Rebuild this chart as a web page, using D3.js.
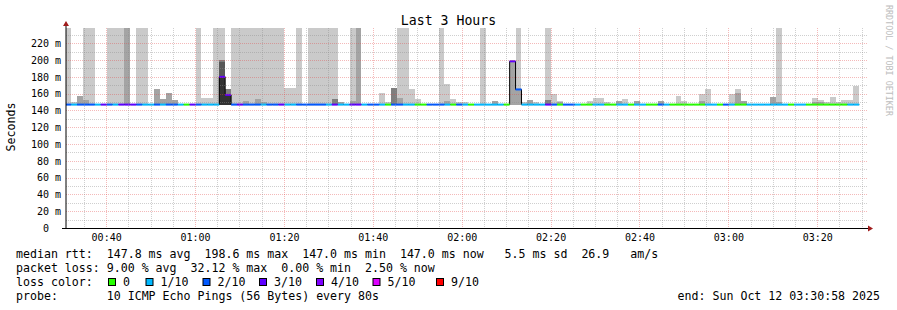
<!DOCTYPE html>
<html>
<head>
<meta charset="utf-8">
<script src="https://cdn.jsdelivr.net/npm/d3@7"></script>
<style>
  body { margin: 0; background: #fff; }
  svg text { font-family: "DejaVu Sans Mono", monospace; white-space: pre; }
</style>
</head>
<body>
<svg id="chart" width="897" height="310"></svg>
<script>
// ── Data ────────────────────────────────────────────────────
const windowStart = new Date(2025, 9, 12, 0, 30, 58);
const windowEnd = new Date(2025, 9, 12, 3, 30, 58);
const stepStart = new Date(2025, 9, 12, 0, 30, 47);
const stepSeconds = 80;
const minRtt = 147.0;

const lossBins = [0, 1, 2, 3, 4, 5, 9];
const lossLabels = ['0', '1/10', '2/10', '3/10', '4/10', '5/10', '9/10'];

// packet loss per step, in pings out of 10
const lossTenths = [
  2, 1, 2, 2, 2, 1, 3, 2, 1, 3,   3, 3, 2, 1, 1, 2, 1, 2, 2, 1,
  0, 3, 2, 1, 1, 1, 3, 3, 2, 3,   2, 2, 2, 1, 2, 2, 3, 1, 1, 2,
  2, 2, 2, 2, 1, 3, 1, 1, 3, 3,   1, 2, 2, 1, 0, 2, 2, 1, 1, 0,
  0, 2, 2, 2, 1, 0, 2, 1, 0, 1,   1, 1, 1, 1, 0, 3, 2, 1, 1, 1,
  1, 3, 2, 0, 2, 2, 1, 0, 0, 1,   1, 0, 0, 1, 1, 0, 1, 1, 0, 0,
  2, 1, 0, 0, 0, 0, 0, 0, 1, 1,   0, 2, 1, 0, 0, 1, 1, 1, 1, 1,
  1, 1, 0, 1, 1, 0, 0, 0, 0, 0,   0, 0, 1, 1
];

// median rtt per step (ms)
const medianMs = [
  147, 147, 147, 147, 147, 147, 147, 147, 147, 147,   147, 147, 147, 147, 147, 147, 147, 147, 147, 147,
  147, 147, 147, 147, 147, 147, 180, 158.5, 147, 147, 147, 147, 147, 147, 147, 147, 147, 147, 147, 147,
  147, 147, 147, 147, 147, 147, 147, 147, 147, 147,   147, 147, 147, 147, 147, 147, 147, 147, 147, 147,
  147, 147, 147, 147, 147, 147, 147, 147, 147, 147,   147, 147, 147, 147, 147, 198.5, 165, 147, 147, 147,
  147, 147, 147, 147, 147, 147, 147, 147, 147, 147,   147, 147, 147, 147, 147, 147, 147, 147, 147, 147,
  147, 147, 147, 147, 147, 147, 147, 147, 147, 147,   147, 147, 147, 147, 147, 147, 147, 147, 147, 147,
  147, 147, 147, 147, 147, 147, 147, 147, 147, 147,   147, 147, 147, 147
];

// outer smoke band top (ms, 300 = off scale)
const smoke1 = [
  300, 150, 157, 300, 300, null, null, 300, 300, 300,   300, null, 300, 300, null, 166, 154, 161, 153, null,
  null, null, 300, 155, 155, 300, 300, 166, 300, 300,   300, 300, 300, 300, 300, 300, 300, 167, 167, 300,
  null, 300, 300, 300, 300, 300, 150, null, 300, 300,   null, null, null, 161, 150.5, 167, 300, 300, 166, 154,
  null, null, null, 300, 172, 154, 149.5, 149.5, null, null,   300, null, 151.5, null, null, 198.5, 300, 149.5, 152, 150,
  null, 300, 160, 151, null, null, null, null, 151.5, 155,   155, 150, null, 151, 154, null, 151, null, null, null,
  151.5, null, null, 157.5, 151.5, null, null, 160, 165, null,   null, null, 159, 165, 151.5, null, null, null, null, 156,
  300, null, null, null, null, null, 155, 152, 150.5, 156,   150.5, 153, 153, 169.5
];

// second smoke band top
const smoke2 = [
  null, null, 157, 152, null, null, null, null, null, null,   300, null, null, null, null, 166, 154, 161, 153, null,
  null, null, null, null, null, null, 200, 166, null, null,   151, null, 154, 149.5, null, null, null, null, null, null,
  null, null, null, null, null, 154, 150, null, 151.5, 300,   null, null, null, null, null, 167, 155, null, null, null,
  null, null, null, null, 151.5, null, null, null, null, null,   null, null, 151.5, null, null, 198.5, 165, null, 152, null,
  null, 153, null, 150, null, null, null, null, null, null,   null, null, null, 151, null, null, 151, null, null, null,
  151.5, null, null, null, null, null, null, 151.5, null, null,   null, null, null, 161, 151.5, null, null, null, null, 156,
  150.5, null, null, null, null, null, 150, 150, null, null,   null, null, null, null
];

// inner bands, only where visible (step index -> top ms)
const smoke3 = { 26: 200, 27: 166, 45: 154, 55: 167, 81: 153 };
const smoke4 = { 26: 198 };
const smoke5 = { 26: 180, 27: 158 };

const yTicks = [0, 20, 40, 60, 80, 100, 120, 140, 160, 180, 200, 220];

// ── Styles ──────────────────────────────────────────────────
const lossColors = ['#26ff00', '#00b8ff', '#0059ff', '#5e00ff', '#7e00ff', '#dd00ff', '#ff0000'];
const smokeShades = ['#cacaca', '#a4a4a4', '#7e7e7e', '#585858', '#323232'];
const minorGrid = 'rgba(140,140,140,0.42)';
const majorGrid = 'rgba(225,70,70,0.38)';
const arrowColor = '#a01c1c';

const svg = d3.select('#chart');
const plot = { left: 66, right: 866, top: 28, bottom: 228 };

const x = d3.scaleTime().domain([windowStart, windowEnd]).range([plot.left, plot.right]);
const y = d3.scaleLinear().domain([0, 238.2]).range([plot.bottom, plot.top]).clamp(true);

svg.append('defs').append('clipPath').attr('id', 'plotclip')
  .append('rect')
  .attr('x', plot.left).attr('y', plot.top - 1)
  .attr('width', plot.right - plot.left).attr('height', plot.bottom - plot.top + 1);

const steps = lossTenths.map((loss, i) => ({
  i,
  t0: new Date(+stepStart + i * stepSeconds * 1000),
  t1: new Date(+stepStart + (i + 1) * stepSeconds * 1000),
  loss,
  median: medianMs[i],
  tops: [smoke1[i], smoke2[i], smoke3[i] ?? null, smoke4[i] ?? null, smoke5[i] ?? null]
}));

const lossColor = l => {
  let idx = 0;
  lossBins.forEach((b, j) => { if (l >= b) idx = j; });
  return lossColors[idx];
};

const g = svg.append('g').attr('clip-path', 'url(#plotclip)');

// ── Smoke ───────────────────────────────────────────────────
smokeShades.forEach((shade, j) => {
  g.append('g')
    .selectAll('rect')
    .data(steps.filter(s => s.tops[j] != null))
    .join('rect')
    .attr('x', s => x(s.t0))
    .attr('width', s => x(s.t1) - x(s.t0))
    .attr('y', s => y(s.tops[j]))
    .attr('height', s => y(minRtt) - y(s.tops[j]))
    .attr('fill', shade)
    .attr('shape-rendering', 'crispEdges');
});

// ── Grid ────────────────────────────────────────────────────
const grid = svg.append('g').attr('stroke-dasharray', '1 1').attr('stroke-width', 1);
const px = v => Math.round(v) + 0.5;

d3.range(10, 238, 10).forEach(v => {
  grid.append('line')
    .attr('x1', plot.left).attr('x2', plot.right + 2)
    .attr('y1', px(y(v))).attr('y2', px(y(v)))
    .attr('stroke', v % 20 === 0 ? majorGrid : minorGrid);
});

d3.timeMinute.every(5).range(windowStart, windowEnd).forEach(t => {
  grid.append('line')
    .attr('x1', px(x(t))).attr('x2', px(x(t)))
    .attr('y1', plot.top).attr('y2', plot.bottom)
    .attr('stroke', t.getMinutes() % 20 === 0 ? majorGrid : minorGrid);
});

// ── Median line ─────────────────────────────────────────────
const medianPts = steps.map(s => [x(s.t0), y(s.median)]);
const last = steps[steps.length - 1];
medianPts.push([x(last.t1), y(last.median)]);

g.append('path')
  .attr('d', d3.line().curve(d3.curveStepAfter)(medianPts))
  .attr('fill', 'none')
  .attr('stroke', '#000')
  .attr('stroke-width', 1);

g.append('g')
  .selectAll('line')
  .data(steps)
  .join('line')
  .attr('x1', s => x(s.t0))
  .attr('x2', s => x(s.t1))
  .attr('y1', s => y(s.median))
  .attr('y2', s => y(s.median))
  .attr('stroke', s => lossColor(s.loss))
  .attr('stroke-width', 2);

// ── Axes ────────────────────────────────────────────────────
svg.append('line')
  .attr('x1', plot.left - 4).attr('x2', plot.right + 2)
  .attr('y1', plot.bottom + 0.5).attr('y2', plot.bottom + 0.5)
  .attr('stroke', '#000');
svg.append('line')
  .attr('x1', plot.left).attr('x2', plot.left)
  .attr('y1', plot.bottom + 1).attr('y2', plot.top - 2)
  .attr('stroke', '#000');

svg.append('path')
  .attr('d', `M${plot.right + 2},${plot.bottom - 2.5}L${plot.right + 7},${plot.bottom + 0.5}L${plot.right + 2},${plot.bottom + 3.5}Z`)
  .attr('fill', arrowColor);
svg.append('path')
  .attr('d', `M${plot.left - 3},${plot.top - 2}L${plot.left},${plot.top - 7}L${plot.left + 3},${plot.top - 2}Z`)
  .attr('fill', arrowColor);

const yAxis = svg.append('g')
  .attr('transform', `translate(${plot.left},0)`)
  .call(d3.axisLeft(y).tickValues(yTicks).tickSize(0).tickPadding(5)
    .tickFormat(d => d === 0 ? '0  ' : `${d} m`));
yAxis.select('.domain').remove();
yAxis.selectAll('text')
  .attr('font-family', '"DejaVu Sans Mono", monospace')
  .attr('font-size', 10).attr('fill', '#000');

const xAxis = svg.append('g')
  .attr('transform', `translate(0,${plot.bottom})`)
  .call(d3.axisBottom(x).ticks(d3.timeMinute.every(20)).tickSize(0).tickPadding(6)
    .tickFormat(d3.timeFormat('%H:%M')));
xAxis.select('.domain').remove();
xAxis.selectAll('text')
  .attr('font-family', '"DejaVu Sans Mono", monospace')
  .attr('font-size', 10).attr('fill', '#000');

// ── Titles ──────────────────────────────────────────────────
svg.append('text')
  .attr('x', 448.5).attr('y', 25)
  .attr('text-anchor', 'middle')
  .attr('font-size', 13.2)
  .text('Last 3 Hours');

svg.append('text')
  .attr('transform', 'translate(15,127) rotate(-90)')
  .attr('text-anchor', 'middle')
  .attr('font-size', 11.6)
  .text('Seconds');

svg.append('text')
  .attr('transform', 'translate(885.5,5) rotate(90)')
  .attr('font-size', 8.4)
  .attr('fill', '#bdbdbd')
  .text('RRDTOOL / TOBI OETIKER');

// ── Legend ──────────────────────────────────────────────────
const legendFont = 11.6;
const legendLines = [
  'median rtt:  147.8 ms avg  198.6 ms max  147.0 ms min  147.0 ms now   5.5 ms sd  26.9   am/s',
  'packet loss: 9.00 % avg  32.12 % max  0.00 % min  2.50 % now',
  'loss color:',
  'probe:       10 ICMP Echo Pings (56 Bytes) every 80s'
];
legendLines.forEach((line, i) => {
  svg.append('text')
    .attr('x', 16).attr('y', 258 + i * 14.1)
    .attr('font-size', legendFont)
    .text(line);
});

const swatchX = [108, 145.5, 202.5, 259, 316, 372.5, 436];
lossLabels.forEach((lab, i) => {
  svg.append('rect')
    .attr('x', swatchX[i] + 0.5).attr('y', 278.5)
    .attr('width', 7).attr('height', 7)
    .attr('fill', lossColors[i])
    .attr('stroke', '#000').attr('stroke-width', 1);
  svg.append('text')
    .attr('x', swatchX[i] + 15).attr('y', 286.2)
    .attr('font-size', legendFont)
    .text(lab);
});

svg.append('text')
  .attr('x', 880).attr('y', 300.3)
  .attr('text-anchor', 'end')
  .attr('font-size', legendFont)
  .text('end: Sun Oct 12 03:30:58 2025');
</script>
</body>
</html>
